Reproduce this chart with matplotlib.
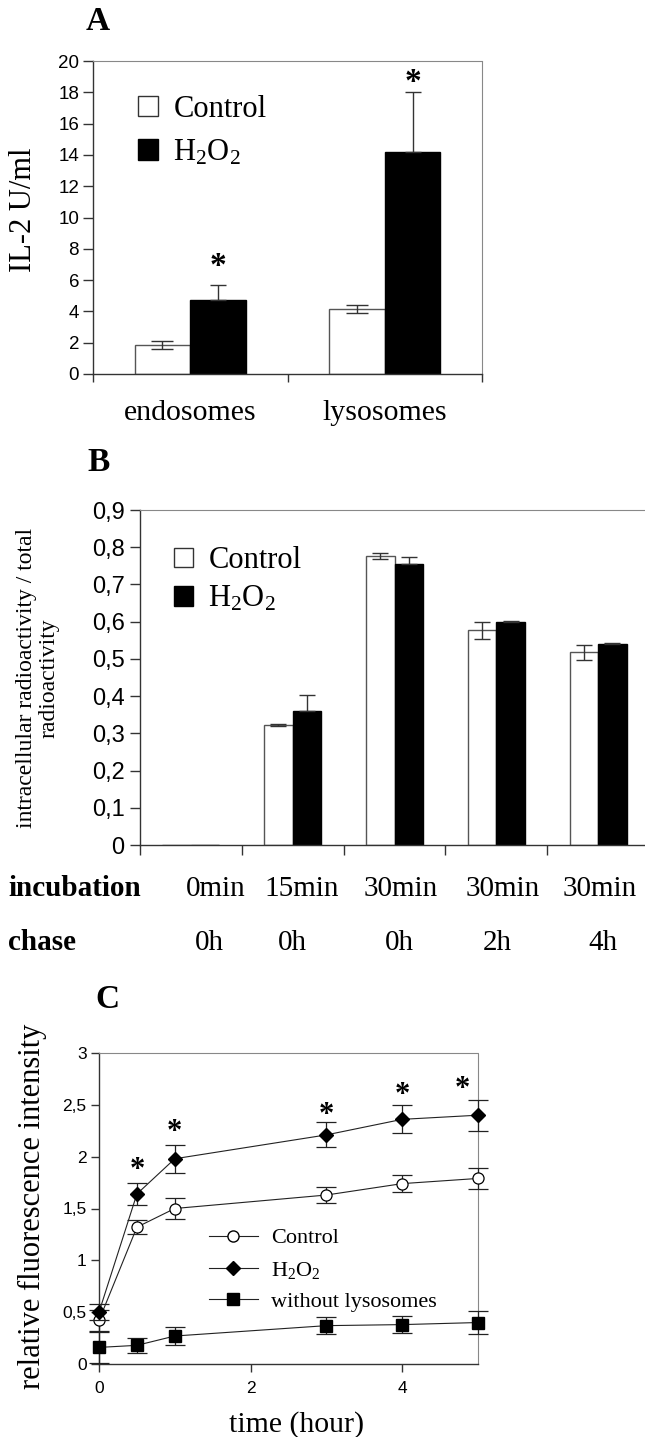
import matplotlib
matplotlib.use("Agg")
import matplotlib.pyplot as plt
import numpy as np
from matplotlib.patches import Patch
from matplotlib.lines import Line2D

# ---------------- data ----------------
# Panel A
a_categories = ["endosomes", "lysosomes"]
a_control = [1.85, 4.15]
a_control_err = [0.25, 0.25]
a_h2o2 = [4.7, 14.2]
a_h2o2_err = [1.0, 3.8]
a_star = [6.85, 18.6]
a_yticks = [0, 2, 4, 6, 8, 10, 12, 14, 16, 18, 20]

# Panel B
b_incubation = ["0min", "15min", "30min", "30min", "30min"]
b_chase = ["0h", "0h", "0h", "2h", "4h"]
b_control = [0.0, 0.323, 0.777, 0.577, 0.518]
b_control_err = [0.0, 0.003, 0.008, 0.023, 0.02]
b_h2o2 = [0.0, 0.36, 0.755, 0.598, 0.539]
b_h2o2_err = [0.0, 0.042, 0.02, 0.005, 0.005]
b_yticks = [0, 0.1, 0.2, 0.3, 0.4, 0.5, 0.6, 0.7, 0.8, 0.9]
b_yticklabels = ["0", "0,1", "0,2", "0,3", "0,4", "0,5", "0,6", "0,7", "0,8", "0,9"]

# Panel C
c_time = [0, 0.5, 1, 3, 4, 5]
c_control = [0.42, 1.32, 1.50, 1.63, 1.74, 1.79]
c_control_err = [0.10, 0.07, 0.10, 0.08, 0.08, 0.10]
c_h2o2 = [0.50, 1.64, 1.98, 2.21, 2.36, 2.40]
c_h2o2_err = [0.08, 0.11, 0.135, 0.12, 0.135, 0.15]
c_nolys = [0.16, 0.18, 0.27, 0.37, 0.38, 0.40]
c_nolys_err = [0.15, 0.07, 0.085, 0.08, 0.085, 0.11]
c_star_x = [0.5, 1, 3, 4, 4.8]
c_star_y = [1.87, 2.23, 2.40, 2.59, 2.65]
c_yticks = [0, 0.5, 1, 1.5, 2, 2.5, 3]
c_yticklabels = ["0", "0,5", "1", "1,5", "2", "2,5", "3"]
c_xticks = [0, 2, 4]

# ---------------- style ----------------
plt.rcParams['font.family'] = ['Liberation Serif', 'DejaVu Serif']
plt.rcParams['mathtext.fontset'] = 'custom'
plt.rcParams['mathtext.rm'] = 'Liberation Serif'
plt.rcParams['mathtext.it'] = 'Liberation Serif:italic'
SANS = ['Liberation Sans', 'DejaVu Sans']
H2O2 = r'H$_\mathrm{2}$O$_\mathrm{2}$'
SPINE = '#333333'
DOT = '#888888'

W, H = 645, 1437
fig = plt.figure(figsize=(W / 100, H / 100), dpi=100)


def rect(l, r, t, b):
    return [l / W, 1 - b / H, (r - l) / W, (b - t) / H]


def fx(x):
    return x / W


def fy(y):
    return 1 - y / H


def style_spines(ax, right_visible=True):
    for s in ['left', 'bottom']:
        ax.spines[s].set_color(SPINE)
        ax.spines[s].set_linewidth(1.0)
    ax.spines['top'].set_linestyle((0, (1, 1)))
    ax.spines['top'].set_color(DOT)
    ax.spines['top'].set_linewidth(0.8)
    if right_visible:
        ax.spines['right'].set_linestyle((0, (1, 1)))
        ax.spines['right'].set_color(DOT)
        ax.spines['right'].set_linewidth(0.8)
    else:
        ax.spines['right'].set_visible(False)


# ---------------- Panel A ----------------
axA = fig.add_axes(rect(93, 482, 61, 374))
xa = np.arange(len(a_categories))
bw = 0.285
off = 0.143
axA.bar(xa - off, a_control, bw, color='white', edgecolor='#555555', linewidth=1.0, zorder=2)
axA.bar(xa + off, a_h2o2, bw, color='black', edgecolor='black', linewidth=1.0, zorder=2)
axA.errorbar(xa - off, a_control, yerr=a_control_err, fmt='none', ecolor='#333333',
             elinewidth=1.0, capsize=8, capthick=1.0, zorder=3)
axA.errorbar(xa + off, a_h2o2, yerr=[np.zeros(len(a_h2o2)), a_h2o2_err], fmt='none',
             ecolor='#333333', elinewidth=1.0, capsize=6, capthick=1.0, zorder=3)
for xi, ys in zip(xa + off, a_star):
    axA.text(xi, ys, '*', ha='center', va='center', fontsize=24, fontweight='bold')
axA.set_xlim(-0.5, 1.5)
axA.set_ylim(0, 20)
axA.set_yticks(a_yticks)
axA.set_yticklabels([str(v) for v in a_yticks], fontfamily=SANS, fontsize=13.5)
axA.tick_params(axis='y', direction='out', length=7, width=1, color=SPINE, pad=3)
axA.set_xticks([-0.5, 0.5, 1.5])
axA.set_xticklabels([])
axA.tick_params(axis='x', direction='out', length=6, width=1, color=SPINE)
for xi, lab in zip(xa, a_categories):
    axA.text(xi, -0.125, lab, transform=axA.get_xaxis_transform(), ha='center',
             va='center', fontsize=21.5)
style_spines(axA)
legA = axA.legend(handles=[Patch(facecolor='white', edgecolor='#333333', linewidth=1.0),
                           Patch(facecolor='black', edgecolor='black')],
                  labels=['Control', H2O2], loc='center left', bbox_to_anchor=(0.116, 0.776),
                  frameon=False, fontsize=22, handlelength=0.65, handleheight=0.65,
                  handletextpad=0.5, labelspacing=0.45, borderpad=0, borderaxespad=0)
fig.text(fx(98), fy(22), 'A', ha='center', va='center', fontsize=24, fontweight='bold')
fig.text(fx(24), fy(210), 'IL-2 U/ml', rotation=90, ha='center', va='center', fontsize=22)

# ---------------- Panel B ----------------
axB = fig.add_axes(rect(140, 649, 510, 845))
xb = np.arange(len(b_incubation))
bwb = 0.28
offb = 0.14
axB.bar(xb - offb, b_control, bwb, color='white', edgecolor='#555555', linewidth=1.0, zorder=2)
axB.bar(xb + offb, b_h2o2, bwb, color='black', edgecolor='black', linewidth=1.0, zorder=2)
mask = np.array(b_control) > 0
axB.errorbar((xb - offb)[mask], np.array(b_control)[mask], yerr=np.array(b_control_err)[mask],
             fmt='none', ecolor='#333333', elinewidth=1.0, capsize=6, capthick=1.0, zorder=3)
axB.errorbar((xb + offb)[mask], np.array(b_h2o2)[mask],
             yerr=[np.zeros(mask.sum()), np.array(b_h2o2_err)[mask]],
             fmt='none', ecolor='#333333', elinewidth=1.0, capsize=6, capthick=1.0, zorder=3)
axB.set_xlim(-0.5, 4.5)
axB.set_ylim(0, 0.9)
axB.set_yticks(b_yticks)
axB.set_yticklabels(b_yticklabels, fontfamily=SANS, fontsize=17)
axB.tick_params(axis='y', direction='out', length=7, width=1, color=SPINE, pad=4)
axB.set_xticks([-0.5, 0.5, 1.5, 2.5, 3.5])
axB.set_xticklabels([])
axB.tick_params(axis='x', direction='out', length=7, width=1, color=SPINE)
style_spines(axB, right_visible=False)
legB = axB.legend(handles=[Patch(facecolor='white', edgecolor='#333333', linewidth=1.0),
                           Patch(facecolor='black', edgecolor='black')],
                  labels=['Control', H2O2], loc='center left', bbox_to_anchor=(0.067, 0.791),
                  frameon=False, fontsize=22, handlelength=0.62, handleheight=0.62,
                  handletextpad=0.5, labelspacing=0.3, borderpad=0, borderaxespad=0)
fig.text(fx(99), fy(463), 'B', ha='center', va='center', fontsize=24, fontweight='bold')
fig.text(fx(38), fy(678), 'intracellular radioactivity / total\nradioactivity', rotation=90,
         ha='center', va='center', multialignment='center', fontsize=17, linespacing=1.1)
inc_x = [216, 302, 401, 503, 600]
chase_x = [209, 292, 399, 497, 603]
fig.text(fx(8), fy(889), 'incubation', ha='left', va='center', fontsize=21, fontweight='bold')
fig.text(fx(8), fy(943), 'chase', ha='left', va='center', fontsize=21, fontweight='bold')
for px, lab in zip(inc_x, b_incubation):
    fig.text(fx(px), fy(889), lab, ha='center', va='center', fontsize=21)
for px, lab in zip(chase_x, b_chase):
    fig.text(fx(px), fy(943), lab, ha='center', va='center', fontsize=21)

# ---------------- Panel C ----------------
axC = fig.add_axes(rect(99, 478, 1053, 1364))
lc = '#222222'
axC.errorbar(c_time, c_nolys, yerr=c_nolys_err, fmt='-s', color=lc, mfc='black', mec='black',
             ms=8, lw=0.8, elinewidth=0.9, capsize=7, capthick=0.9, clip_on=False, zorder=3)
axC.errorbar(c_time, c_control, yerr=c_control_err, fmt='-o', color=lc, mfc='white', mec='black',
             ms=8, mew=0.9, lw=0.8, elinewidth=0.9, capsize=7, capthick=0.9, clip_on=False, zorder=4)
axC.errorbar(c_time, c_h2o2, yerr=c_h2o2_err, fmt='-D', color=lc, mfc='black', mec='black',
             ms=7, lw=0.8, elinewidth=0.9, capsize=7, capthick=0.9, clip_on=False, zorder=5)
for xs, ys in zip(c_star_x, c_star_y):
    axC.text(xs, ys, '*', ha='center', va='center', fontsize=22, fontweight='bold')
axC.set_xlim(0, 5)
axC.set_ylim(0, 3)
axC.set_yticks(c_yticks)
axC.set_yticklabels(c_yticklabels, fontfamily=SANS, fontsize=12.5)
axC.set_xticks(c_xticks)
axC.set_xticklabels([str(v) for v in c_xticks], fontfamily=SANS, fontsize=12.5)
axC.tick_params(axis='y', direction='out', length=6, width=1, color=SPINE, pad=3)
axC.tick_params(axis='x', direction='out', length=6, width=1, color=SPINE, pad=6)
style_spines(axC)
handlesC = [Line2D([], [], color=lc, lw=0.8, marker='o', mfc='white', mec='black', ms=8),
            Line2D([], [], color=lc, lw=0.8, marker='D', mfc='black', mec='black', ms=7),
            Line2D([], [], color=lc, lw=0.8, marker='s', mfc='black', mec='black', ms=8)]
axC.legend(handles=handlesC, labels=['Control', H2O2, 'without lysosomes'], loc='center left',
           bbox_to_anchor=(0.29, 0.302), frameon=False, fontsize=16, handlelength=2.2,
           handletextpad=0.6, labelspacing=0.5, borderpad=0, borderaxespad=0)
fig.text(fx(107), fy(999), 'C', ha='center', va='center', fontsize=24, fontweight='bold')
fig.text(fx(32), fy(1206), 'relative fluorescence intensity', rotation=90, ha='center',
         va='center', fontsize=22)
fig.text(fx(297), fy(1425), 'time (hour)', ha='center', va='center', fontsize=21.5)

fig.savefig('out.png', dpi=100)
